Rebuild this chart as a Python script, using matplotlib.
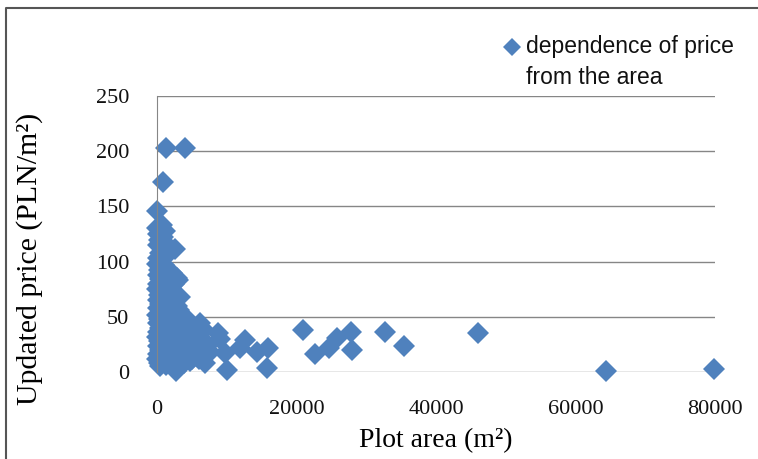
import matplotlib.pyplot as plt
from matplotlib.lines import Line2D

# plot area (m2) and updated price (PLN/m2)
area = [
    # left column, near zero
    0, 200, 300, 100, 400, 200, 0, 300, 100, 400, 200, 0, 300, 100, 400,
    200, 0, 300, 100, 400, 200, 0, 300, 100, 400, 200, 0, 300, 500,
    # x about 1000
    700, 1100, 900, 1300, 800, 1200, 1000, 1400, 900, 1100, 1300, 800,
    1000, 1200, 1500, 900, 1100, 1300, 1000, 1200, 800, 1400, 1100, 1300,
    # x about 2000-3000
    2600, 2200, 2800, 2400, 2000, 2700, 2300, 2900, 2100, 2500, 2800,
    2200, 2600, 2000, 2400, 2900, 2300, 2700, 2100, 2700,
    # x about 3000-4000
    3000, 3300, 3100, 3600, 3200, 3800, 3400, 3700, 3100, 3500, 3900,
    # x about 4000-8000
    4300, 4800, 4500, 5200, 4200, 5600, 4700, 5000,
    6200, 6800, 6500, 7200, 6000, 7600, 6900,
    # outliers high up
    1250, 4000, 900, 0,
    # tail
    8800, 9000, 9700, 10000, 11900, 12600, 14300, 15800, 15900,
    20900, 22700, 24700, 25800, 27800, 28000, 32700, 35400,
    46000, 64400, 79900,
]
price = [
    130, 125, 120, 115, 108, 103, 98, 92, 88, 84, 80, 75, 70, 65, 62,
    58, 52, 48, 44, 40, 36, 32, 28, 24, 20, 16, 12, 8, 5,
    133, 128, 122, 116, 110, 104, 97, 90, 85, 78, 72, 66,
    60, 55, 50, 45, 40, 35, 30, 25, 20, 15, 10, 6,
    111, 90, 85, 80, 75, 70, 65, 60, 55, 50, 45,
    40, 35, 30, 25, 20, 15, 10, 5, 1,
    83, 68, 56, 50, 44, 38, 32, 26, 20, 14, 8,
    48, 40, 34, 28, 22, 16, 10, 12,
    44, 38, 30, 24, 12, 18, 8,
    203, 203, 172, 146,
    35, 30, 17, 2, 22, 29, 18, 4, 22,
    38, 16, 22, 31, 36, 20, 36, 24,
    35, 1, 3,
]
legend_lines = ['dependence of price', 'from the area']

blue = '#4F81BD'
grid = '#868686'

fig = plt.figure(figsize=(7.58, 4.59), dpi=100)
ax = fig.add_axes([157 / 758, 87 / 459, 558 / 758, 276 / 459])

ax.plot(area, price, linestyle='none', marker='D', markersize=11.5,
        color=blue, markeredgewidth=0, clip_on=False)

ax.set_xlim(0, 80000)
ax.set_ylim(0, 250)
ax.set_xticks([0, 20000, 40000, 60000, 80000])
ax.set_yticks([0, 50, 100, 150, 200, 250])
ax.yaxis.grid(True, color=grid, linewidth=1)
ax.set_axisbelow(True)
for s in ['top', 'right', 'bottom']:
    ax.spines[s].set_visible(False)
ax.spines['left'].set_color(grid)
ax.tick_params(length=0, labelsize=16, pad=20)
for lab in ax.get_xticklabels() + ax.get_yticklabels():
    lab.set_family('Liberation Serif')
    lab.set_color('#111111')

ax.set_xlabel('Plot area (m²)', family='Liberation Serif', fontsize=20)
ax.set_ylabel('Updated price (PLN/m²)', family='Liberation Serif',
              fontsize=21.5)
ax.xaxis.set_label_coords(0.5, -0.25)
ax.yaxis.set_label_coords(-0.228, 0.41)
ax.xaxis.label.set_va('center')
ax.yaxis.label.set_va('center')

# legend entry, drawn by hand so the marker sits on the first line
fig.add_artist(Line2D([512 / 758], [1 - 47 / 459], marker='D', markersize=9,
                      color=blue, markeredgewidth=0,
                      transform=fig.transFigure))
for i, line in enumerate(legend_lines):
    fig.text(526 / 758, 1 - (53 + 31 * i) / 459, line, va='baseline',
             ha='left', fontsize=16.5, color='#111111',
             family=['Liberation Sans Narrow', 'Liberation Sans'])

# outer chart frame, partly cut off
fig.add_artist(Line2D([6 / 758, 6 / 758, 1.0], [0, 1 - 8 / 459, 1 - 8 / 459],
                      transform=fig.transFigure, color='#555555', linewidth=1.5))

fig.savefig('out.png', dpi=100)
